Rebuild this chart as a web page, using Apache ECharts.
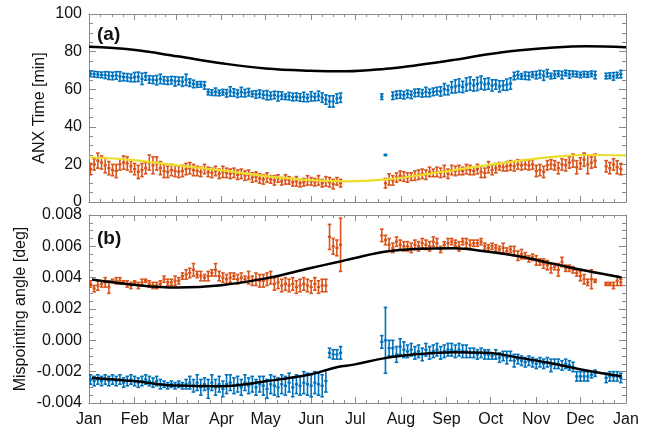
<!DOCTYPE html>
<html>
<head>
<meta charset="utf-8">
<script src="https://cdn.jsdelivr.net/npm/echarts@6/dist/echarts.min.js"></script>
<style>html,body{margin:0;padding:0;background:#fff}#chart{width:649px;height:428px}</style>
</head>
<body>
<div id="chart"></div>
<script>
// ---- x sampling (day of year) ----
const days = [
 1,3.5,6,8.5,11,13.5,16,18.5,21,23.5,26,28.5,31,33.5,36,38.5,41,43.5,46,48.5,51,53.5,56,58.5,61,63.5,66,68.5,71,73.5,
 76,78.5,81,83.5,86,88.5,91,93.5,96,98.5,101,103.5,106,108.5,111,113.5,116,118.5,121,123.5,126,128.5,131,133.5,136,138.5,
 141,143.5,146,148.5,151,153.5,156,158.5,161,163.5,166,168.5,171,
 199,201.5,204,206.5,209,211.5,214,216.5,219,221.5,224,226.5,229,231.5,234,236.5,239,241.5,244,246.5,249,251.5,254,256.5,
 259,261.5,264,266.5,269,271.5,274,276.5,279,281.5,284,286.5,289,291.5,294,296.5,299,301.5,304,306.5,309,311.5,314,316.5,
 319,321.5,324,326.5,329,331.5,334,336.5,339,341.5,344,346.5,349,351.5,354,356.5,359,361.5
];

// ---- panel (a): ANX time [min] ----
const anxBlue = [
 68.2,68.0,67.8,67.6,67.5,67.2,67.0,67.3,66.8,66.5,
 66.3,66.0,66.4,66.6,65.5,66.8,65.2,65.0,64.8,65.5,
 64.7,64.5,64.8,64.2,64.4,64.0,65.0,63.5,62.8,62.5,
 62.6,62.0,58.5,58.2,58.6,58.0,58.4,57.8,58.8,58.2,
 57.6,58.5,57.9,58.4,57.5,57.2,57.6,57.0,56.8,56.5,
 56.9,56.2,56.6,56.0,56.3,55.8,56.0,55.6,55.9,55.3,
 56.2,55.8,56.5,55.5,54.5,53.5,53.5,55.0,55.5,
 56.0,25.0,null,56.5,57.0,57.2,56.8,57.5,57.0,58.0,
 58.2,57.8,58.5,58.0,58.6,59.0,58.8,60.0,59.5,61.0,
 61.5,62.0,61.2,62.5,63.0,62.0,62.8,63.5,62.6,63.0,
 62.0,62.5,61.5,62.0,62.4,63.0,67.0,67.5,66.8,67.2,
 67.0,67.8,67.5,68.0,67.2,68.5,67.0,67.8,68.3,67.5,
 68.6,67.8,68.2,68.0,67.6,68.0,67.8,68.2,67.5,null,
 null,67.0,67.2,66.8,67.5,68.0
];
const anxBlueErr = [
 1.5,1.5,1.5,1.5,1.8,2,2,2,2.5,2,
 2,2,2.5,2.5,3,2,2,2,2.5,2.5,
 2,2,2,2.5,2,2.5,3,2,2,1.5,
 1.5,2,1.5,1.5,2,1.5,1.5,2,2.5,2,
 2,2.5,2,2,1.5,2,2,2,2.5,2,
 2,2.5,2,1.5,2,2,2,2,2.5,2,
 2.5,2,2.5,2.5,2.5,3,3,2.5,2.5,
 1.5,0.3,0,2,2,2,2,2,2,2,
 2,2,2.5,2,2,2,2.5,3,2.5,3,
 3.5,3.5,3,3.5,3.5,3,3.5,3.5,3,3,
 3,2.5,3,2.5,3,3,2,2,1.5,2,
 2,1.5,2,2,2.5,2,1.5,2,1.5,2,
 1.5,2,1.5,1.5,1.5,1.5,1.5,1.5,2,0,
 0,1.5,1.5,2,1.5,2
];
const anxOrange = [
 17.5,20.0,22.0,21.0,19.5,18.0,17.0,16.5,20.0,21.0,
 20.5,19.0,17.5,16.0,17.0,18.0,21.0,19.5,20.5,18.0,
 16.5,16.0,17.0,16.5,16.0,16.5,17.5,18.0,17.0,16.5,
 16.0,17.5,16.0,15.5,16.5,15.0,16.0,15.5,15.0,15.5,
 14.5,15.0,14.0,14.5,13.0,13.5,12.5,12.0,13.0,12.0,
 11.5,12.5,11.0,12.0,11.5,10.5,11.0,10.0,10.5,11.5,
 11.0,10.5,11.5,10.0,11.0,10.5,9.5,11.0,10.0,
 null,10.0,12.0,11.5,13.0,14.0,13.5,13.0,13.5,14.0,
 14.5,15.0,14.5,16.0,15.5,16.0,15.5,16.5,15.0,17.0,
 16.5,17.0,16.5,17.5,17.0,16.5,17.5,16.0,15.5,18.5,
 17.0,18.0,19.0,18.5,19.0,19.5,19.0,20.0,19.5,20.0,
 19.5,20.0,16.5,17.0,16.0,19.5,20.0,19.5,18.0,20.0,
 19.5,21.0,22.0,18.5,20.5,22.5,20.0,21.0,22.0,null,
 null,19.0,18.0,20.0,18.5,17.5
];
const anxOrangeErr = [
 3,3,4,3.5,4,3.5,3,3.5,3,3.5,
 3.5,3,3,3.5,3.5,3,4,4.5,3.5,3.5,
 3.5,3,3,3,3,3,3,3,3,2.5,
 2.5,2.5,2.5,2.5,2.5,2.5,3,2.5,2.5,2.5,
 2.5,2.5,2.5,2.5,2.5,2.5,2.5,2.5,2.5,2,
 2.5,2,2,2.5,2,2,2.5,2,2,2.5,
 2,2,2.5,2,2.5,2.5,2.5,2,2,
 0,2.5,3,2.5,2.5,2.5,2.5,2.5,2,2.5,
 2.5,2.5,2.5,2.5,2,2.5,2.5,3,2.5,2.5,
 2.5,2.5,2,2.5,2.5,2,2.5,3,2.5,3,
 2.5,2.5,2,2,2.5,2.5,2.5,2.5,2.5,2.5,
 2.5,2.5,3,3,3,2.5,2.5,2.5,3,3,
 3,3,3.5,3.5,3,3.5,5,3,3.5,0,
 0,3,3,3,3.5,3
];
const modelDaysA = [0,30,60,90,120,150,175,202,225,248,270,293,316,338,365];
const anxModel  = [82.6,81.0,77.5,73.8,71.0,69.8,69.5,70.9,73.0,75.6,78.4,80.7,82.2,82.8,82.3];
const anxYellow = [23.8,22.3,19.5,16.8,13.8,11.6,11.0,12.0,14.3,17.0,19.5,22.0,24.0,25.0,24.8];

// ---- panel (b): mispointing angle [deg] ----
const misOrange = [
 .0036,.0033,.0035,.0036,.0037,.0034,.0038,.0038,.0038,.0037,
 .0036,.0035,.0037,.0035,.0037,.0038,.0036,.0035,.0035,.0036,
 .0039,.0037,.0037,.0038,.0038,.0041,.0042,.0043,.0045,.0042,
 .0041,.0040,.0041,.0043,.0045,.0041,.0040,.0039,.0040,.0041,
 .0039,.0040,.0039,.0040,.0038,.0039,.0038,.0038,.0039,.0040,
 .0036,.0037,.0035,.0036,.0035,.0036,.0034,.0035,.0036,.0035,
 .0034,.0036,.0034,.0035,.0035,.0066,.0060,.0059,.0061,
 .0067,.0064,.0061,.0059,.0063,.0061,.0060,.0060,.0059,.0061,
 .0060,.0062,.0061,.0060,.0063,.0062,.0058,.0061,.0062,.0063,
 .0062,.0060,.0063,.0062,.0061,.0062,.0062,.0063,.0060,.0059,
 .0060,.0059,.0058,.0059,.0057,.0058,.0057,.0054,.0055,.0054,
 .0052,.0053,.0051,.0050,.0049,.0048,.0046,.0047,.0045,.0050,
 .0046,.0046,.0045,.0043,.0041,.0039,.0037,.0039,.0038,null,
 null,.0036,.0036,.0035,.0038,.0037
];
const misOrangeErr = [
 .0002,.0002,.0003,.0002,.0003,.0004,.0001,.0002,.0002,.0001,
 .0002,.0002,.0001,.0002,.0002,.0001,.0002,.0002,.0002,.0002,
 .0002,.0002,.0002,.0003,.0002,.0002,.0003,.0003,.0004,.0002,
 .0003,.0002,.0003,.0002,.0004,.0003,.0003,.0003,.0003,.0002,
 .0003,.0003,.0002,.0004,.0003,.0004,.0004,.0004,.0004,.0004,
 .0004,.0004,.0004,.0004,.0004,.0004,.0004,.0004,.0004,.0004,
 .0004,.0004,.0004,.0004,.0004,.0008,.0005,.0005,.0017,
 .0004,.0003,.0004,.0003,.0003,.0003,.0003,.0003,.0003,.0003,
 .0003,.0003,.0003,.0003,.0003,.0003,.0002,.0002,.0003,.0002,
 .0002,.0003,.0002,.0003,.0003,.0002,.0002,.0002,.0002,.0002,
 .0002,.0002,.0002,.0003,.0002,.0002,.0003,.0003,.0003,.0002,
 .0002,.0002,.0003,.0002,.0003,.0003,.0003,.0002,.0004,.0003,
 .0002,.0002,.0002,.0002,.0003,.0003,.0002,.0006,.0001,0,
 0,.0001,.0001,.0002,.0003,.0002
];
const misBlue = [
 -.0025,-.0026,-.0025,-.0026,-.0025,-.0026,-.0025,-.0026,-.0025,-.0027,
 -.0026,-.0025,-.0026,-.0027,-.0026,-.0025,-.0026,-.0027,-.0026,-.0028,
 -.0028,-.0029,-.0028,-.0029,-.0028,-.0029,-.0028,-.0027,-.0029,-.0027,
 -.0030,-.0028,-.0031,-.0027,-.0030,-.0028,-.0031,-.0028,-.0027,-.0029,
 -.0028,-.0030,-.0027,-.0029,-.0028,-.0030,-.0028,-.0029,-.0031,-.0028,
 -.0029,-.0030,-.0028,-.0029,-.0027,-.0030,-.0028,-.0029,-.0027,-.0028,
 -.0029,-.0027,-.0028,-.0029,-.0026,-.0008,-.0009,-.0009,-.0008,
 -.0001,.0000,-.0005,-.0005,-.0009,-.0004,-.0006,-.0007,-.0006,-.0008,
 -.0007,-.0009,-.0006,-.0008,-.0007,-.0006,-.0008,-.0007,-.0006,-.0006,
 -.0007,-.0006,-.0007,-.0007,-.0008,-.0008,-.0009,-.0008,-.0009,-.0009,
 -.0010,-.0009,-.0011,-.0010,-.0011,-.0010,-.0013,-.0012,-.0013,-.0014,
 -.0013,-.0014,-.0015,-.0014,-.0015,-.0014,-.0016,-.0015,-.0015,-.0016,
 -.0015,-.0016,-.0017,-.0023,-.0023,-.0023,-.0023,-.0022,-.0021,null,
 null,-.0024,-.0023,-.0023,-.0023,-.0024
];
const misBlueErr = [
 .0003,.0003,.0003,.0003,.0003,.0003,.0003,.0003,.0003,.0003,
 .0003,.0003,.0003,.0003,.0003,.0003,.0003,.0003,.0003,.0003,
 .0002,.0002,.0002,.0002,.0002,.0002,.0003,.0004,.0004,.0005,
 .0005,.0004,.0006,.0005,.0005,.0005,.0005,.0006,.0005,.0005,
 .0005,.0005,.0005,.0005,.0005,.0005,.0005,.0006,.0006,.0006,
 .0006,.0006,.0006,.0006,.0006,.0006,.0006,.0006,.0007,.0007,
 .0007,.0007,.0007,.0007,.0007,.0003,.0003,.0003,.0004,
 .0004,.0021,.0005,.0005,.0005,.0005,.0005,.0004,.0004,.0004,
 .0004,.0004,.0004,.0004,.0004,.0004,.0004,.0004,.0004,.0004,
 .0004,.0004,.0004,.0004,.0003,.0003,.0003,.0003,.0003,.0003,
 .0002,.0003,.0003,.0003,.0004,.0003,.0004,.0003,.0003,.0003,
 .0003,.0003,.0003,.0003,.0003,.0003,.0004,.0003,.0003,.0003,
 .0003,.0003,.0003,.0003,.0003,.0003,.0003,.0002,.0002,0,
 0,.0003,.0003,.0003,.0003,.0003
];
const modelDaysB = [2,30,60,90,121,150,169,180,202,225,248,270,293,316,338,362];
const misOrangeModel = [.00388,.00355,.00337,.00352,.00397,.0046,.0050,.00524,.00567,.00584,.00588,.00567,.00535,.00488,.00444,.00401];
const misBlueModel = [-.0024,-.0026,-.00289,-.00293,-.0026,-.00218,-.0017,-.00155,-.00112,-.00087,-.00076,-.0008,-.00112,-.0015,-.00193,-.00229];

// ---- axis ticks ----
const monthStarts = [0,31,59,90,120,151,181,212,243,273,304,334,365];
const monthLabels = ['Jan','Feb','Mar','Apr','May','Jun','Jul','Aug','Sep','Oct','Nov','Dec','Jan'];
const anxTicks = [0,20,40,60,80,100];
const misTicks = [-0.004,-0.002,0,0.002,0.004,0.006,0.008];

const BLUE = '#0072BD', ORANGE = '#D95319', YELLOW = '#EBDD2A', FRAME = '#8a8a8a';
const FONT = '"Liberation Sans", Arial, Helvetica, sans-serif';

const quarterTicks = [];
for (let i = 0; i < monthStarts.length - 1; i++) {
  const a = monthStarts[i], b = monthStarts[i + 1];
  for (let k = 1; k < 4; k++) quarterTicks.push(a + (b - a) * k / 4);
}

function pts(vals, errs) {
  const out = [];
  for (let i = 0; i < days.length; i++) {
    if (vals[i] === null || vals[i] === undefined) continue;
    out.push([days[i], vals[i], errs[i]]);
  }
  return out;
}
function line(xs, ys) { return xs.map((x, i) => [x, ys[i]]); }

function errRender(color) {
  return function (params, api) {
    const x = api.value(0), y = api.value(1), e = api.value(2);
    const t = api.coord([x, y + e]), b = api.coord([x, y - e]), c = api.coord([x, y]);
    const hw = 1.8;
    const st = { stroke: color, lineWidth: 1.6 };
    return {
      type: 'group',
      children: [
        { type: 'line', shape: { x1: c[0], y1: t[1], x2: c[0], y2: b[1] }, style: st },
        { type: 'line', shape: { x1: c[0] - hw, y1: t[1], x2: c[0] + hw, y2: t[1] }, style: st },
        { type: 'line', shape: { x1: c[0] - hw, y1: b[1], x2: c[0] + hw, y2: b[1] }, style: st },
        { type: 'rect', shape: { x: c[0] - 1.6, y: c[1] - 1.1, width: 3.2, height: 2.2 }, style: { fill: color } }
      ]
    };
  };
}

function xAxes(grid, withLabels) {
  const base = {
    type: 'value', gridIndex: grid, min: 0, max: 365,
    splitLine: { show: false }, axisLine: { show: true, onZero: false, lineStyle: { color: FRAME, width: 1 } }
  };
  const hidden = { show: false, onZero: false };
  const lab = withLabels ? {
    show: true, customValues: monthStarts, margin: 9, color: '#111', fontSize: 16, fontFamily: FONT,
    formatter: v => monthLabels[monthStarts.indexOf(v)]
  } : { show: false };
  return [
    Object.assign({}, base, { position: 'bottom', axisTick: { inside: true, length: 6, customValues: monthStarts, lineStyle: { color: FRAME } }, axisLabel: lab }),
    Object.assign({}, base, { position: 'bottom', axisLine: hidden, axisTick: { inside: true, length: 3, customValues: quarterTicks, lineStyle: { color: FRAME } }, axisLabel: { show: false } }),
    Object.assign({}, base, { position: 'top', axisTick: { inside: true, length: 6, customValues: monthStarts, lineStyle: { color: FRAME } }, axisLabel: { show: false } }),
    Object.assign({}, base, { position: 'top', axisLine: hidden, axisTick: { inside: true, length: 3, customValues: quarterTicks, lineStyle: { color: FRAME } }, axisLabel: { show: false } })
  ];
}

function yAxes(grid, ticks, name, gap, fmt) {
  const base = {
    type: 'value', gridIndex: grid, min: ticks[0], max: ticks[ticks.length - 1], interval: ticks[1] - ticks[0],
    splitLine: { show: false },
    axisLine: { show: true, onZero: false, lineStyle: { color: FRAME, width: 1 } },
    axisTick: { inside: true, length: 7, lineStyle: { color: FRAME } },
    minorTick: { show: true, splitNumber: 4, length: 4, lineStyle: { color: FRAME } }
  };
  return [
    Object.assign({}, base, {
      position: 'left', name: name, nameLocation: 'middle', nameGap: gap, nameMoveOverlap: false,
      nameTextStyle: { fontSize: 16, color: '#111', fontFamily: FONT },
      axisLabel: { show: true, margin: 7, color: '#111', fontSize: 16, fontFamily: FONT, formatter: fmt }
    }),
    Object.assign({}, base, { position: 'right', axisLabel: { show: false } })
  ];
}

const chart = echarts.init(document.getElementById('chart'), null, { renderer: 'canvas' });
chart.setOption({
  animation: false,
  backgroundColor: '#fff',
  title: [
    { text: '(a)', left: 92, top: 20, textStyle: { fontSize: 19, fontWeight: 'bold', color: '#111', fontFamily: FONT } },
    { text: '(b)', left: 92, top: 224, textStyle: { fontSize: 19, fontWeight: 'bold', color: '#111', fontFamily: FONT } }
  ],
  grid: [
    { left: 89, top: 14, width: 537, height: 188 },
    { left: 89, top: 215, width: 537, height: 188 }
  ],
  xAxis: xAxes(0, false).concat(xAxes(1, true)),
  yAxis: yAxes(0, anxTicks, 'ANX Time [min]', 41, v => String(v))
    .concat(yAxes(1, misTicks, 'Mispointing angle [deg]', 60, v => v.toFixed(3))),
  series: [
    { type: 'custom', xAxisIndex: 0, yAxisIndex: 0, renderItem: errRender(BLUE), data: pts(anxBlue, anxBlueErr), encode: { x: 0, y: 1 }, clip: true, z: 2 },
    { type: 'custom', xAxisIndex: 0, yAxisIndex: 0, renderItem: errRender(ORANGE), data: pts(anxOrange, anxOrangeErr), encode: { x: 0, y: 1 }, clip: true, z: 2 },
    { type: 'line', xAxisIndex: 0, yAxisIndex: 0, data: line(modelDaysA, anxModel), smooth: 0.4, showSymbol: false, lineStyle: { color: '#000', width: 2.5 }, z: 3 },
    { type: 'line', xAxisIndex: 0, yAxisIndex: 0, data: line(modelDaysA, anxYellow), smooth: 0.4, showSymbol: false, lineStyle: { color: YELLOW, width: 2.2 }, z: 3 },
    { type: 'custom', xAxisIndex: 4, yAxisIndex: 2, renderItem: errRender(ORANGE), data: pts(misOrange, misOrangeErr), encode: { x: 0, y: 1 }, clip: true, z: 2 },
    { type: 'custom', xAxisIndex: 4, yAxisIndex: 2, renderItem: errRender(BLUE), data: pts(misBlue, misBlueErr), encode: { x: 0, y: 1 }, clip: true, z: 2 },
    { type: 'line', xAxisIndex: 4, yAxisIndex: 2, data: line(modelDaysB, misOrangeModel), smooth: 0.4, showSymbol: false, lineStyle: { color: '#000', width: 2.5 }, z: 3 },
    { type: 'line', xAxisIndex: 4, yAxisIndex: 2, data: line(modelDaysB, misBlueModel), smooth: 0.4, showSymbol: false, lineStyle: { color: '#000', width: 2.5 }, z: 3 }
  ]
});
</script>
</body>
</html>
